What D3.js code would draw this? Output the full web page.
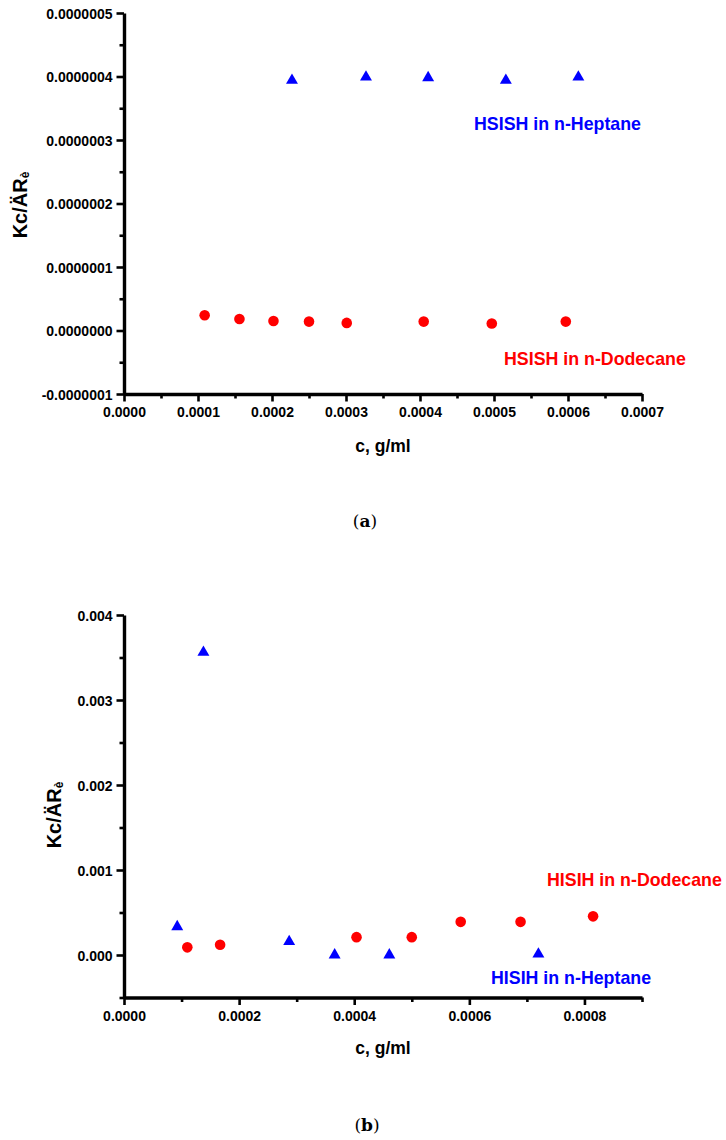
<!DOCTYPE html>
<html>
<head>
<meta charset="utf-8">
<script src="https://cdn.jsdelivr.net/npm/d3@7"></script>
<style>
  html, body { margin: 0; padding: 0; background: #fff; }
  svg { display: block; font-family: "Liberation Sans", Arial, sans-serif; }
</style>
</head>
<body>
<svg id="chart" width="726" height="1140"></svg>
<script>
// ---------- Data: panel (a) ----------
const aHeptaneX = [0.000227, 0.000327, 0.000411, 0.000516, 0.000614];
const aHeptaneY = [3.94e-7, 3.99e-7, 3.98e-7, 3.94e-7, 3.99e-7];
const aDodecaneX = [0.000109, 0.000156, 0.000202, 0.000250, 0.000301, 0.000405, 0.000497, 0.000597];
const aDodecaneY = [2.4e-8, 1.8e-8, 1.5e-8, 1.4e-8, 1.2e-8, 1.4e-8, 1.1e-8, 1.4e-8];
const aXTicks = [0, 0.0001, 0.0002, 0.0003, 0.0004, 0.0005, 0.0006, 0.0007];
const aXTickLabels = ["0.0000", "0.0001", "0.0002", "0.0003", "0.0004", "0.0005", "0.0006", "0.0007"];
const aXMinor = [0.00005, 0.00015, 0.00025, 0.00035, 0.00045, 0.00055, 0.00065];
const aYTicks = [-1e-7, 0, 1e-7, 2e-7, 3e-7, 4e-7, 5e-7];
const aYTickLabels = ["-0.0000001", "0.0000000", "0.0000001", "0.0000002", "0.0000003", "0.0000004", "0.0000005"];
const aYMinor = [-0.5e-7, 0.5e-7, 1.5e-7, 2.5e-7, 3.5e-7, 4.5e-7];
const aXDomain = [0, 0.0007];
const aYDomain = [-1e-7, 5e-7];

// ---------- Data: panel (b) ----------
const bHeptaneX = [0.0000925, 0.000138, 0.000287, 0.000366, 0.000461, 0.000720];
const bHeptaneY = [0.000333, 0.00356, 0.000157, 0.0, 0.0, 0.00001];
const bDodecaneX = [0.000110, 0.000167, 0.000404, 0.000500, 0.000585, 0.000689, 0.000815];
const bDodecaneY = [0.00009, 0.00012, 0.00021, 0.00021, 0.00039, 0.00039, 0.000455];
const bXTicks = [0, 0.0002, 0.0004, 0.0006, 0.0008];
const bXTickLabels = ["0.0000", "0.0002", "0.0004", "0.0006", "0.0008"];
const bXMinor = [0.0001, 0.0003, 0.0005, 0.0007, 0.0009];
const bYTicks = [0, 0.001, 0.002, 0.003, 0.004];
const bYTickLabels = ["0.000", "0.001", "0.002", "0.003", "0.004"];
const bYMinor = [-0.0005, 0.0005, 0.0015, 0.0025, 0.0035];
const bXDomain = [0, 0.0009];
const bYDomain = [-0.0005, 0.004];

const xTitle = "c, g/ml";
const yTitleMain = "Kc/ÄR";
const yTitleSub = "è";

const RED = "#ff0000", BLUE = "#0000ff";
const svg = d3.select("#chart");
svg.append("rect").attr("width", 726).attr("height", 1140).attr("fill", "#fff");

function panel(cfg) {
  const g = svg.append("g");
  const x = d3.scaleLinear().domain(cfg.xDomain).range([cfg.left, cfg.right]);
  const y = d3.scaleLinear().domain(cfg.yDomain).range([cfg.bottom, cfg.top]);

  // minor ticks
  g.append("g").attr("transform", `translate(0,${cfg.bottom})`)
    .call(d3.axisBottom(x).tickValues(cfg.xMinor).tickSize(4.5).tickSizeOuter(0).tickFormat(""))
    .call(s => s.select(".domain").remove());
  g.append("g").attr("transform", `translate(${cfg.left},0)`)
    .call(d3.axisLeft(y).tickValues(cfg.yMinor).tickSize(4.5).tickSizeOuter(0).tickFormat(""))
    .call(s => s.select(".domain").remove());

  const xa = g.append("g").attr("transform", `translate(0,${cfg.bottom})`)
    .call(d3.axisBottom(x).tickValues(cfg.xTicks).tickSize(7.5).tickSizeOuter(0).tickPadding(6)
      .tickFormat((d, i) => cfg.xLabels[i]));
  const ya = g.append("g").attr("transform", `translate(${cfg.left},0)`)
    .call(d3.axisLeft(y).tickValues(cfg.yTicks).tickSize(7.5).tickSizeOuter(0).tickPadding(4)
      .tickFormat((d, i) => cfg.yLabels[i]));

  g.selectAll(".tick line").attr("stroke", "#000").attr("stroke-width", 2.6);
  g.selectAll(".domain").attr("stroke", "#000").attr("stroke-width", 3.4);
  g.selectAll(".tick text").attr("fill", "#000").style("font-size", "14px")
    .style("font-weight", "bold").style("font-family", "'Liberation Sans', Arial, sans-serif");
  ya.selectAll(".tick text").attr("dy", "0.36em");

  // axis titles
  g.append("text").attr("x", cfg.xTitleX).attr("y", cfg.xTitleY)
    .attr("text-anchor", "middle").attr("dominant-baseline", "central")
    .style("font-size", "17.5px").style("font-weight", "bold").text(xTitle);
  const yt = g.append("text")
    .attr("transform", `translate(${cfg.yTitleX},${cfg.yTitleY}) rotate(-90)`)
    .attr("text-anchor", "middle").attr("dominant-baseline", "central")
    .style("font-size", "20px").style("font-weight", "bold");
  yt.append("tspan").text(yTitleMain);
  yt.append("tspan").attr("dy", "0.4em").style("font-size", "12px").text(yTitleSub);

  // marks
  g.selectAll("circle.dod").data(cfg.dodX.map((v, i) => [v, cfg.dodY[i]]))
    .join("circle").attr("class", "dod")
    .attr("cx", d => x(d[0])).attr("cy", d => y(d[1])).attr("r", 5.3).attr("fill", RED);
  const tri = d3.symbol().type(d3.symbolTriangle).size(62);
  g.selectAll("path.hep").data(cfg.hepX.map((v, i) => [v, cfg.hepY[i]]))
    .join("path").attr("class", "hep")
    .attr("transform", d => `translate(${x(d[0])},${y(d[1])})`)
    .attr("d", tri).attr("fill", BLUE);

  // series labels
  cfg.labels.forEach(l => {
    g.append("text").attr("x", l.x).attr("y", l.y).attr("dominant-baseline", "central")
      .attr("fill", l.color).style("font-size", "17.8px").style("font-weight", "bold").text(l.text);
  });

  // caption
  const cap = g.append("text").attr("x", cfg.capX).attr("y", cfg.capY)
    .attr("text-anchor", "middle").attr("dominant-baseline", "central")
    .style("font-family", "'DejaVu Serif', 'Liberation Serif', serif").style("font-size", "17px");
  cap.append("tspan").text("(");
  cap.append("tspan").style("font-weight", "bold").text(cfg.capLetter);
  cap.append("tspan").text(")");
}

panel({
  xDomain: aXDomain, yDomain: aYDomain,
  left: 124, right: 642, top: 13, bottom: 394,
  xTicks: aXTicks, xLabels: aXTickLabels, xMinor: aXMinor,
  yTicks: aYTicks, yLabels: aYTickLabels, yMinor: aYMinor,
  hepX: aHeptaneX, hepY: aHeptaneY, dodX: aDodecaneX, dodY: aDodecaneY,
  xTitleX: 383, xTitleY: 446, yTitleX: 20, yTitleY: 205,
  labels: [
    { text: "HSISH in n-Heptane", x: 474, y: 124, color: BLUE },
    { text: "HSISH in n-Dodecane", x: 504, y: 359, color: RED }
  ],
  capX: 365, capY: 521, capLetter: "a"
});

panel({
  xDomain: bXDomain, yDomain: bYDomain,
  left: 124, right: 642, top: 615, bottom: 997.5,
  xTicks: bXTicks, xLabels: bXTickLabels, xMinor: bXMinor,
  yTicks: bYTicks, yLabels: bYTickLabels, yMinor: bYMinor,
  hepX: bHeptaneX, hepY: bHeptaneY, dodX: bDodecaneX, dodY: bDodecaneY,
  xTitleX: 383, xTitleY: 1048, yTitleX: 54, yTitleY: 815,
  labels: [
    { text: "HISIH in n-Dodecane", x: 547, y: 880, color: RED },
    { text: "HISIH in n-Heptane", x: 491, y: 978, color: BLUE }
  ],
  capX: 367, capY: 1125, capLetter: "b"
});
</script>
</body>
</html>
